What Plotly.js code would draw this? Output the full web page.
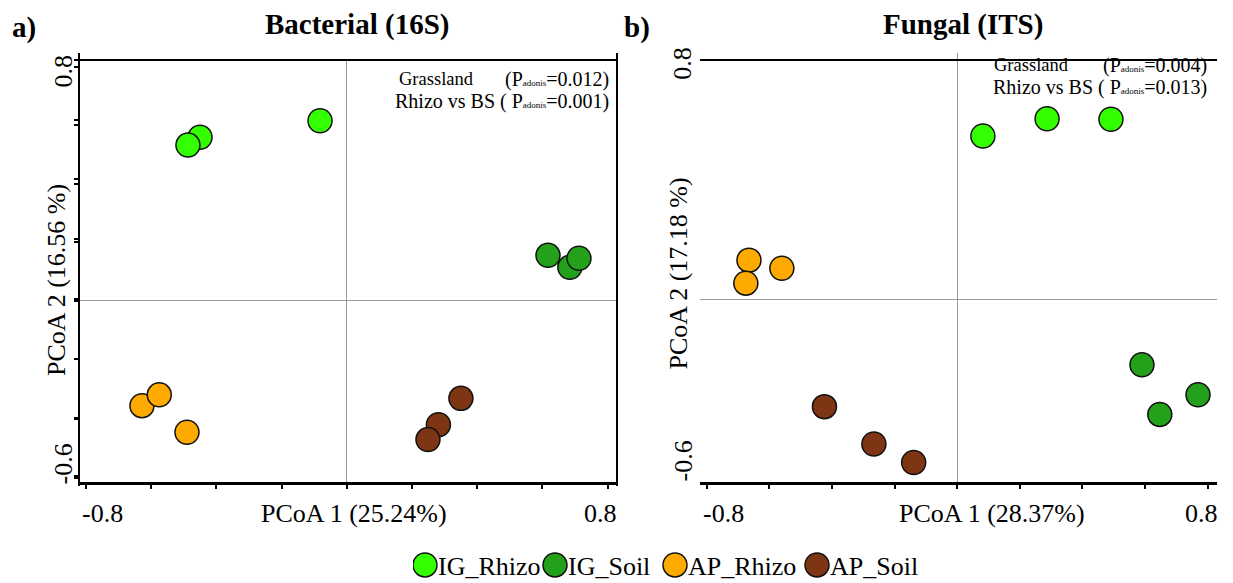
<!DOCTYPE html>
<html>
<head>
<meta charset="utf-8">
<script src="https://cdn.plot.ly/plotly-3.0.1.min.js"></script>
<style>html,body{margin:0;padding:0;background:#fff;overflow:hidden;}#chart{width:1233px;height:583px;}</style>
</head>
<body>
<div id="chart"></div>
<script>
// ---- Data (PCoA coordinates) ----
const groups = ['IG_Rhizo', 'IG_Soil', 'AP_Rhizo', 'AP_Soil'];

// Panel a: Bacterial (16S)
const bac_IG_Rhizo_x = [-0.450, -0.487, -0.082];
const bac_IG_Rhizo_y = [0.560, 0.533, 0.616];
const bac_IG_Soil_x = [0.617, 0.684, 0.712];
const bac_IG_Soil_y = [0.156, 0.115, 0.146];
const bac_AP_Rhizo_x = [-0.628, -0.575, -0.490];
const bac_AP_Rhizo_y = [-0.358, -0.321, -0.449];
const bac_AP_Soil_x = [0.350, 0.281, 0.249];
const bac_AP_Soil_y = [-0.333, -0.423, -0.474];

// Panel b: Fungal (ITS)
const fun_IG_Rhizo_x = [0.082, 0.287, 0.491];
const fun_IG_Rhizo_y = [0.545, 0.603, 0.601];
const fun_IG_Soil_x = [0.590, 0.769, 0.647];
const fun_IG_Soil_y = [-0.220, -0.320, -0.386];
const fun_AP_Rhizo_x = [-0.665, -0.560, -0.675];
const fun_AP_Rhizo_y = [0.130, 0.103, 0.053];
const fun_AP_Soil_x = [-0.424, -0.266, -0.139];
const fun_AP_Soil_y = [-0.360, -0.485, -0.547];

const xTickVals = [-0.8, -0.6, -0.4, -0.2, 0, 0.2, 0.4, 0.6, 0.8];
const yTickVals = [-0.6, -0.4, -0.2, 0, 0.2, 0.4, 0.6, 0.8];
const xTickLabels = ['-0.8', '0.8'];
const yTickLabels = ['0.8', '-0.6'];

const panelTitles = ['Bacterial (16S)', 'Fungal (ITS)'];
const panelLetters = ['a)', 'b)'];
const xTitles = ['PCoA 1 (25.24%)', 'PCoA 1 (28.37%)'];
const yTitles = ['PCoA 2 (16.56 %)', 'PCoA 2 (17.18 %)'];
const statsGrass = ['0.012', '0.004'];
const statsRhizo = ['0.001', '0.013'];

// ---- Styling ----
const colors = ['#33ff00', '#23a11b', '#ffaa00', '#7d3513'];
const legendWidths = [85, 75, 97, 86];
const FONT = 'Liberation Serif, Times New Roman, serif';
const W = 1233, H = 583;
const px = v => v / W;
const py = v => 1 - v / H;

const bacData = [
  [bac_IG_Rhizo_x, bac_IG_Rhizo_y],
  [bac_IG_Soil_x, bac_IG_Soil_y],
  [bac_AP_Rhizo_x, bac_AP_Rhizo_y],
  [bac_AP_Soil_x, bac_AP_Soil_y]
];
const funData = [
  [fun_IG_Rhizo_x, fun_IG_Rhizo_y],
  [fun_IG_Soil_x, fun_IG_Soil_y],
  [fun_AP_Rhizo_x, fun_AP_Rhizo_y],
  [fun_AP_Soil_x, fun_AP_Soil_y]
];

const traces = [];
groups.forEach((g, i) => {
  traces.push({
    type: 'scatter', mode: 'markers', name: g, legendgroup: g, legendwidth: legendWidths[i],
    x: bacData[i][0], y: bacData[i][1], xaxis: 'x', yaxis: 'y',
    marker: {size: 24, color: colors[i], line: {color: '#111', width: 1.5}},
    showlegend: true, hoverinfo: 'x+y+name'
  });
});
groups.forEach((g, i) => {
  traces.push({
    type: 'scatter', mode: 'markers', name: g, legendgroup: g,
    x: funData[i][0], y: funData[i][1], xaxis: 'x2', yaxis: 'y2',
    marker: {size: 24, color: colors[i], line: {color: '#111', width: 1.5}},
    showlegend: false, hoverinfo: 'x+y+name'
  });
});

function xAxis(domain, range) {
  return {
    domain: domain, range: range, showline: true, mirror: true, linecolor: '#000', linewidth: 2.5,
    ticks: 'outside', ticklen: 4, tickwidth: 2, tickcolor: '#000', tickvals: xTickVals,
    showticklabels: false, showgrid: false, zeroline: true, zerolinecolor: '#9a9a9a', zerolinewidth: 1,
    fixedrange: true
  };
}
function yAxis(domain, range) {
  return {
    domain: domain, range: range, showline: true, mirror: true, linecolor: '#000', linewidth: 2.5,
    ticks: 'outside', ticklen: 4, tickwidth: 2, tickcolor: '#000', tickvals: yTickVals,
    showticklabels: false, showgrid: false, zeroline: true, zerolinecolor: '#9a9a9a', zerolinewidth: 1,
    fixedrange: true
  };
}

const sub = '<span style="font-size:9px">adonis</span>';
const ann = [];
const txt = (o) => Object.assign({showarrow: false, font: {family: FONT, size: 26, color: '#000'}}, o);

// Text placement per panel (pixels)
const panels = [
  {xa: 'x', ya: 'y', titleX: 357, letterX: 24, xTitleX: 354, yTitleX: 57, yTitleY: 280,
   yLabX: 63, xShiftL: 16.5, xShiftR: -6.7, yShiftTop: -4.5, yShiftBot: 12,
   statL: 397, statR: 611, statY1: 79, statY2: 101},
  {xa: 'x2', ya: 'y2', titleX: 963, letterX: 637, xTitleX: 992, yTitleX: 678, yTitleY: 273.5,
   yLabX: 683, xShiftL: 16.3, xShiftR: -6.2, yShiftTop: -3, yShiftBot: 18,
   statL: 992, statR: 1209, statY1: 65, statY2: 87}
];

panels.forEach((p, i) => {
  ann.push(txt({xref: 'paper', yref: 'paper', x: px(p.titleX), y: py(24), xanchor: 'center', yanchor: 'middle',
    text: '<b>' + panelTitles[i] + '</b>', font: {family: FONT, size: 29, color: '#000'}}));
  ann.push(txt({xref: 'paper', yref: 'paper', x: px(p.letterX), y: py(28), xanchor: 'center', yanchor: 'middle',
    text: '<b>' + panelLetters[i] + '</b>', font: {family: FONT, size: 29, color: '#000'}}));
  ann.push(txt({xref: 'paper', yref: 'paper', x: px(p.xTitleX), y: py(513), xanchor: 'center', yanchor: 'middle',
    text: xTitles[i]}));
  ann.push(txt({xref: 'paper', yref: 'paper', x: px(p.yTitleX), y: py(p.yTitleY), xanchor: 'center', yanchor: 'middle',
    text: yTitles[i], textangle: -90}));
  // x tick labels (ends only)
  ann.push(txt({xref: p.xa, yref: 'paper', x: xTickVals[0], xshift: p.xShiftL, y: py(513), xanchor: 'center', yanchor: 'middle',
    text: xTickLabels[0]}));
  ann.push(txt({xref: p.xa, yref: 'paper', x: xTickVals[xTickVals.length - 1], xshift: p.xShiftR, y: py(513), xanchor: 'center', yanchor: 'middle',
    text: xTickLabels[1]}));
  // y tick labels (ends only)
  ann.push(txt({xref: 'paper', yref: p.ya, x: px(p.yLabX), y: yTickVals[yTickVals.length - 1], yshift: p.yShiftTop, xanchor: 'center', yanchor: 'middle',
    text: yTickLabels[0], textangle: -90}));
  ann.push(txt({xref: 'paper', yref: p.ya, x: px(p.yLabX), y: yTickVals[0], yshift: p.yShiftBot, xanchor: 'center', yanchor: 'middle',
    text: yTickLabels[1], textangle: -90}));
  // stats text
  ann.push(txt({xref: 'paper', yref: 'paper', x: px(p.statL), y: py(p.statY1), xanchor: 'left', yanchor: 'middle',
    text: 'Grassland', font: {family: FONT, size: 18.5, color: '#000'}}));
  ann.push(txt({xref: 'paper', yref: 'paper', x: px(p.statR), y: py(p.statY1), xanchor: 'right', yanchor: 'middle',
    text: '(P' + sub + '=' + statsGrass[i] + ')', font: {family: FONT, size: 20, color: '#000'}}));
  ann.push(txt({xref: 'paper', yref: 'paper', x: px(p.statR), y: py(p.statY2), xanchor: 'right', yanchor: 'middle',
    text: 'Rhizo vs BS ( P' + sub + '=' + statsRhizo[i] + ')', font: {family: FONT, size: 20, color: '#000'}}));
});

const layout = {
  width: W, height: H, autosize: false,
  margin: {l: 0, r: 0, t: 0, b: 0, pad: 0, autoexpand: false},
  paper_bgcolor: '#fff', plot_bgcolor: '#fff',
  font: {family: FONT, color: '#000'},
  xaxis: xAxis([px(80), px(615.5)], [-0.818, 0.824]),
  yaxis: yAxis([py(482), py(61)], [-0.619, 0.8205]),
  xaxis2: xAxis([px(700), px(1216.7)], [-0.8214, 0.8287]),
  yaxis2: yAxis([py(486), py(53)], [-0.6254, 0.8227]),
  showlegend: true,
  legend: {orientation: 'h', x: px(413), xanchor: 'left', y: py(565), yanchor: 'middle',
    font: {family: FONT, size: 26, color: '#000'}, tracegroupgap: 0, borderwidth: 0,
    bgcolor: 'rgba(0,0,0,0)'},
  annotations: ann
};

Plotly.newPlot('chart', traces, layout, {displayModeBar: false, staticPlot: true}).then(gd => {
  // enlarge legend symbols to the plotted marker size and tighten symbol-text gap
  gd.querySelectorAll('.legend .legendpoints path.scatterpts').forEach(p => {
    p.setAttribute('transform', 'translate(12,0) scale(1.5)');
    p.style.strokeWidth = '1px';
  });
  gd.querySelectorAll('.legend text.legendtext').forEach(t => {
    t.setAttribute('x', '25');
    t.querySelectorAll('tspan[x]').forEach(s => s.setAttribute('x', '25'));
  });
});
</script>
</body>
</html>
